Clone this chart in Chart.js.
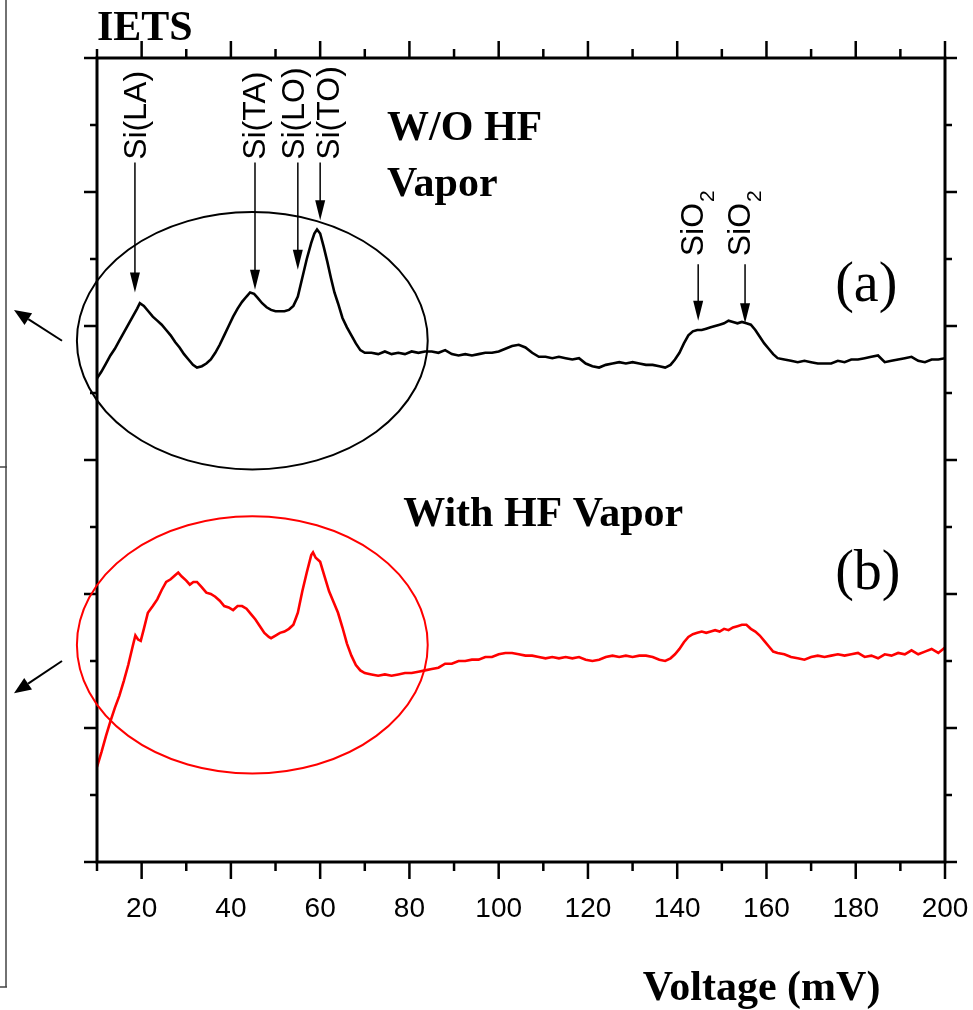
<!DOCTYPE html>
<html>
<head>
<meta charset="utf-8">
<title>IETS</title>
<script src="https://cdn.jsdelivr.net/npm/chart.js@4.4.0/dist/chart.umd.min.js"></script>
<style>
  body { margin: 0; background: #fff; }
  canvas { display: block; }
</style>
</head>
<body>
<canvas id="myChart" width="973" height="1010"></canvas>
<script>
// tick labels of the voltage axis (mV)
var xTickLabels = [20, 40, 60, 80, 100, 120, 140, 160, 180, 200];

// voltage (mV) shared by both curves after the phonon region
var voltageTail = [71.5, 73, 74.5, 76, 77.5, 79,
  80.5, 82, 83.5, 85, 86.5, 88, 89.5, 91, 92.5, 94,
  95.5, 97, 98.5, 100, 101.5, 103, 104.5, 106, 107.5, 109,
  110.5, 112, 113.5, 115, 116.5, 118, 119.5, 121, 122.5, 124,
  125.5, 127, 128.5, 130, 131.5, 133, 134.5, 136, 137.3, 138.5,
  139.5, 140.5, 141.5, 142.5, 143.5, 144.5, 145.5, 146.5, 147.5, 148.5,
  149.5, 150.5, 151.5, 152.5, 153.5, 154.5, 155.5, 156.5, 157.5, 158.5,
  159.5, 160.5, 161.5, 162.5, 164, 165.5, 167, 168.5, 170, 171.5,
  173, 174.5, 176, 177.5, 179, 180.5, 182, 183.5, 185, 186.5,
  188, 189.5, 191, 192.5, 194, 195.5, 197, 198.5, 200];

// (a) W/O HF vapor
var voltageHeadA = [10, 11, 12, 13, 14, 15, 16, 17, 18, 19,
  19.6, 20.5, 21.5, 22.5, 23.5, 24.5, 25.5, 26.5, 27.5, 28.5,
  29.5, 30.5, 31.5, 32.4, 33.5, 34.5, 35.5, 36.5, 37.5, 38.5,
  39.5, 40.5, 41.5, 42.5, 43.5, 44.3, 45.2, 46, 47, 48,
  49, 50, 51, 52, 53, 54, 55, 56, 57, 58,
  58.7, 59.3, 60, 60.8, 61.6, 62.4, 63.2, 64, 65, 66,
  67, 68, 69, 70];
var signalA = [3.61, 3.66, 3.72, 3.78, 3.83, 3.89, 3.95, 4.01, 4.07, 4.13,
  4.17, 4.15, 4.11, 4.07, 4.04, 4.01, 3.97, 3.93, 3.88, 3.84,
  3.79, 3.75, 3.71, 3.69, 3.70, 3.72, 3.75, 3.80, 3.86, 3.93,
  4.00, 4.07, 4.13, 4.18, 4.22, 4.25, 4.24, 4.21, 4.17, 4.14,
  4.12, 4.11, 4.11, 4.11, 4.12, 4.15, 4.22, 4.36, 4.50, 4.62,
  4.69, 4.72, 4.69, 4.59, 4.48, 4.36, 4.25, 4.17, 4.06, 3.99,
  3.93, 3.87, 3.82, 3.80, 3.80, 3.79, 3.81, 3.79, 3.80, 3.79,
  3.81, 3.80, 3.81, 3.81, 3.80, 3.82, 3.79, 3.78, 3.79, 3.78,
  3.79, 3.80, 3.80, 3.81, 3.83, 3.85, 3.86, 3.84, 3.80, 3.77,
  3.77, 3.76, 3.77, 3.76, 3.75, 3.76, 3.72, 3.70, 3.69, 3.71,
  3.72, 3.73, 3.72, 3.73, 3.72, 3.71, 3.71, 3.70, 3.69, 3.71,
  3.75, 3.80, 3.87, 3.93, 3.96, 3.97, 3.97, 3.98, 3.99, 4.00,
  4.01, 4.02, 4.04, 4.03, 4.02, 4.03, 4.02, 4.01, 3.97, 3.92,
  3.87, 3.83, 3.79, 3.76, 3.75, 3.74, 3.73, 3.74, 3.73, 3.72,
  3.72, 3.72, 3.74, 3.73, 3.75, 3.75, 3.76, 3.77, 3.78, 3.73,
  3.74, 3.75, 3.76, 3.77, 3.74, 3.73, 3.75, 3.75, 3.76];

// (b) With HF vapor
var voltageHeadB = [10, 11, 12, 13, 14, 15, 16, 17, 18,
  18.6, 19.2, 19.8, 20.5, 21.4,
  22.5, 23.5, 24.5, 25.5, 26.5, 27.5,
  28.2, 29, 30, 30.8, 31.6, 32.4,
  33.5, 34.5, 35.5, 36.5, 37.5, 38.5, 39.5, 40.5, 41.5, 42.5, 43.5, 44.5, 45.5, 46.5, 47.5, 48.5,
  49, 50, 51, 52, 53, 54, 55, 56, 57, 58,
  58.4, 59, 60, 61, 62, 63, 64, 65, 66, 67, 68, 69, 70];
var signalB = [0.71, 0.82, 0.94, 1.05, 1.15, 1.24, 1.35, 1.47, 1.61,
  1.69, 1.66, 1.65, 1.74, 1.86,
  1.91, 1.96, 2.03, 2.09, 2.11, 2.14,
  2.16, 2.13, 2.10, 2.07, 2.09, 2.09,
  2.05, 2.01, 2.00, 1.98, 1.95, 1.91, 1.90, 1.88, 1.91, 1.91, 1.89, 1.85, 1.81, 1.76, 1.71, 1.68,
  1.67, 1.69, 1.71, 1.72, 1.74, 1.77, 1.86, 2.02, 2.16, 2.29,
  2.31, 2.27, 2.24, 2.13, 2.02, 1.94, 1.86, 1.75, 1.63, 1.54, 1.47, 1.43, 1.41,
  1.40, 1.39, 1.40, 1.39, 1.40, 1.41,
  1.41, 1.42, 1.43, 1.44, 1.45, 1.48, 1.48, 1.50, 1.50, 1.51,
  1.51, 1.53, 1.53, 1.55, 1.56, 1.56, 1.55, 1.54, 1.54, 1.53,
  1.52, 1.53, 1.52, 1.53, 1.52, 1.53, 1.51, 1.50, 1.51, 1.53,
  1.54, 1.53, 1.54, 1.53, 1.54, 1.54, 1.53, 1.51, 1.50, 1.52,
  1.55, 1.59, 1.64, 1.68, 1.70, 1.71, 1.72, 1.71, 1.72, 1.73,
  1.72, 1.74, 1.73, 1.75, 1.76, 1.77, 1.77, 1.74, 1.72, 1.69,
  1.65, 1.61, 1.57, 1.56, 1.55, 1.53, 1.52, 1.51, 1.53, 1.54,
  1.53, 1.54, 1.55, 1.54, 1.55, 1.56, 1.53, 1.54, 1.52, 1.55,
  1.54, 1.56, 1.55, 1.58, 1.55, 1.57, 1.59, 1.56, 1.60];

// peak markers
var peakNames = ['Si(LA)', 'Si(TA)', 'Si(LO)', 'Si(TO)'];
var peakVoltage = [18.5, 45.4, 55.0, 60.0];
var peakTip = [4.25, 4.27, 4.42, 4.79];
var oxideVoltage = [144.7, 155.2];
var oxideTip = [4.04, 4.02];

var voltageA = voltageHeadA.concat(voltageTail);
var voltageB = voltageHeadB.concat(voltageTail);
var pointsA = voltageA.map(function (v, i) { return { x: v, y: signalA[i] }; });
var pointsB = voltageB.map(function (v, i) { return { x: v, y: signalB[i] }; });

var serif = '"Liberation Serif", "Times New Roman", serif';
var sans = '"Liberation Sans", Arial, sans-serif';

function arrowDown(ctx, px, y0, y1, head, half) {
  ctx.beginPath();
  ctx.moveTo(px, y0);
  ctx.lineTo(px, y1 - head + 2);
  ctx.stroke();
  ctx.beginPath();
  ctx.moveTo(px, y1);
  ctx.lineTo(px - half, y1 - head);
  ctx.lineTo(px + half, y1 - head);
  ctx.closePath();
  ctx.fill();
}

function arrowTo(ctx, x0, y0, x1, y1, head, half) {
  var ang = Math.atan2(y1 - y0, x1 - x0);
  var bx = x1 - head * Math.cos(ang), by = y1 - head * Math.sin(ang);
  ctx.beginPath();
  ctx.moveTo(x0, y0);
  ctx.lineTo(bx, by);
  ctx.stroke();
  ctx.beginPath();
  ctx.moveTo(x1, y1);
  ctx.lineTo(bx + half * Math.sin(ang), by - half * Math.cos(ang));
  ctx.lineTo(bx - half * Math.sin(ang), by + half * Math.cos(ang));
  ctx.closePath();
  ctx.fill();
}

// frame, ticks and all the annotations
var decor = {
  id: 'decor',
  afterDraw: function (chart) {
    var ctx = chart.ctx, a = chart.chartArea;
    var x = chart.scales.x, y = chart.scales.y;
    ctx.save();
    ctx.strokeStyle = '#000';
    ctx.fillStyle = '#000';
    ctx.lineCap = 'butt';

    // box
    ctx.lineWidth = 3;
    ctx.strokeRect(a.left, a.top, a.right - a.left, a.bottom - a.top);

    // ticks
    ctx.lineWidth = 2.5;
    ctx.beginPath();
    for (var v = 10; v <= 200; v += 10) {
      var px = x.getPixelForValue(v);
      var len = v % 20 === 0 ? 17 : 9;
      ctx.moveTo(px, a.bottom); ctx.lineTo(px, a.bottom + len);
      ctx.moveTo(px, a.top); ctx.lineTo(px, a.top - len);
    }
    for (var w = 0; w <= 6; w += 0.5) {
      var py = y.getPixelForValue(w);
      var major = w % 1 === 0;
      ctx.moveTo(a.left, py); ctx.lineTo(a.left - (major ? 13 : 7), py);
      ctx.moveTo(a.right, py); ctx.lineTo(a.right + (major ? 12 : 7), py);
    }
    ctx.stroke();

    // leftover edge of the neighbouring panel
    ctx.lineWidth = 1.5;
    ctx.strokeStyle = '#444';
    ctx.beginPath();
    ctx.moveTo(6, 0); ctx.lineTo(6, 987);
    ctx.moveTo(0, 467); ctx.lineTo(7, 467);
    ctx.moveTo(0, 987); ctx.lineTo(7, 987);
    ctx.stroke();
    ctx.strokeStyle = '#000';

    // ellipses round the phonon peaks
    ctx.lineWidth = 2;
    var cx = x.getPixelForValue(44.8);
    var rx = x.getPixelForValue(44.8 + 39.3) - cx;
    var ry = y.getPixelForValue(0) - y.getPixelForValue(0.96);
    ctx.beginPath();
    ctx.ellipse(cx, y.getPixelForValue(3.89), rx, ry, 0, 0, Math.PI * 2);
    ctx.stroke();
    ctx.strokeStyle = '#ff0000';
    ctx.beginPath();
    ctx.ellipse(cx, y.getPixelForValue(1.62), rx, ry, 0, 0, Math.PI * 2);
    ctx.stroke();
    ctx.strokeStyle = '#000';

    // arrows pointing out of the plot
    ctx.lineWidth = 2;
    arrowTo(ctx, a.left - 35, y.getPixelForValue(3.89), a.left - 83, y.getPixelForValue(4.12), 17, 7);
    arrowTo(ctx, a.left - 35, y.getPixelForValue(1.50), a.left - 83, y.getPixelForValue(1.26), 17, 7);

    // peak labels and arrows (labels nudged sideways so they do not collide)
    var nudge = [1, 0, -4, 9];
    ctx.lineWidth = 1.5;
    for (var i = 0; i < peakNames.length; i++) {
      var lx = x.getPixelForValue(peakVoltage[i]);
      arrowDown(ctx, lx, y.getPixelForValue(5.22), y.getPixelForValue(peakTip[i]), 20, 5);
      ctx.save();
      ctx.translate(lx + nudge[i], y.getPixelForValue(5.24));
      ctx.rotate(-Math.PI / 2);
      ctx.font = '32px ' + sans;
      ctx.textAlign = 'left';
      ctx.textBaseline = 'middle';
      ctx.fillText(peakNames[i], 0, 1);
      ctx.restore();
    }
    for (var j = 0; j < oxideVoltage.length; j++) {
      var ox = x.getPixelForValue(oxideVoltage[j]);
      arrowDown(ctx, ox, y.getPixelForValue(4.46), y.getPixelForValue(oxideTip[j]), 20, 5);
      ctx.save();
      ctx.translate(ox, y.getPixelForValue(4.52));
      ctx.rotate(-Math.PI / 2);
      ctx.font = '32px ' + sans;
      ctx.textAlign = 'left';
      ctx.textBaseline = 'middle';
      ctx.fillText('SiO', 0, -4);
      var sw = ctx.measureText('SiO').width;
      ctx.font = '21px ' + sans;
      ctx.fillText('2', sw + 1, 10);
      ctx.restore();
    }

    // titles
    ctx.textAlign = 'left';
    ctx.textBaseline = 'alphabetic';
    ctx.font = 'bold 42px ' + serif;
    ctx.fillText('IETS', a.left, a.top - 18);
    ctx.fillText('W/O HF', x.getPixelForValue(75.0), y.getPixelForValue(5.39));
    ctx.fillText('Vapor', x.getPixelForValue(75.0), y.getPixelForValue(4.97));
    ctx.fillText('With HF Vapor', x.getPixelForValue(78.6), y.getPixelForValue(2.51));
    ctx.fillText('Voltage (mV)', x.getPixelForValue(132.3), chart.height - 10);
    ctx.font = '56px ' + serif;
    ctx.fillText('(a)', x.getPixelForValue(175.4), y.getPixelForValue(4.19));
    ctx.fillText('(b)', x.getPixelForValue(175.4), y.getPixelForValue(2.04));
    ctx.restore();
  }
};

var ctx = document.getElementById('myChart');

var myChart = new Chart(ctx, {
  type: 'line',
  data: {
    datasets: [{
      label: '(a)',
      data: pointsA,
      borderColor: '#000000',
      borderWidth: 2.6,
      pointRadius: 0,
      tension: 0
    }, {
      label: '(b)',
      data: pointsB,
      borderColor: '#ff0000',
      borderWidth: 2.6,
      pointRadius: 0,
      tension: 0
    }]
  },
  options: {
    responsive: false,
    animation: false,
    devicePixelRatio: 1,
    layout: { padding: { left: 0, right: 28, top: 58, bottom: 0 } },
    plugins: { legend: { display: false }, tooltip: { enabled: false } },
    scales: {
      x: {
        type: 'linear',
        min: 10,
        max: 200,
        grid: { display: false, drawTicks: false },
        border: { display: false },
        ticks: {
          color: '#000',
          font: { family: sans, size: 28 },
          padding: 30,
          autoSkip: false,
          maxRotation: 0
        },
        afterBuildTicks: function (scale) {
          scale.ticks = xTickLabels.map(function (v) { return { value: v }; });
        },
        afterFit: function (scale) {
          scale.height = 148;
          // the "200" label may overhang the frame, as in the original
          scale.paddingLeft = 0;
          scale.paddingRight = 0;
        }
      },
      y: {
        min: 0,
        max: 6,
        grid: { display: false, drawTicks: false },
        border: { display: false },
        ticks: { display: false },
        afterFit: function (scale) { scale.width = 97; }
      }
    }
  },
  plugins: [decor]
});
</script>
</body>
</html>
